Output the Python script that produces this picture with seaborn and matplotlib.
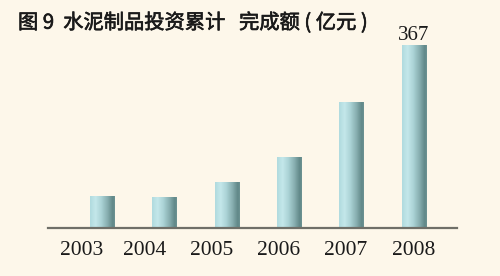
import numpy as np
import pandas as pd
import matplotlib
matplotlib.use("Agg")
import matplotlib.pyplot as plt
import matplotlib.patheffects as pe
from matplotlib.colors import LinearSegmentedColormap
import seaborn as sns

# ---- data ----
years = ["2003", "2004", "2005", "2006", "2007", "2008"]
values = [63, 62, 91, 142, 251, 367]
labeled_year = "2008"
labeled_text = "367"
title = "图 9  水泥制品投资累计   完成额 ( 亿元 )"

# ---- layout (style only) ----
tick_pos = [-0.33, 0.68, 1.75, 2.83, 3.90, 5.0]
bg = "#fdf7ea"

sns.set_theme(style="white")
plt.rcParams["font.family"] = ["Noto Sans CJK SC", "DejaVu Sans"]

fig = plt.figure(figsize=(5.0, 2.76), dpi=100, facecolor=bg)
ax = fig.add_axes([48 / 500, 48.5 / 276, 409 / 500, 227.5 / 276])
ax.set_facecolor(bg)

df = pd.DataFrame({"year": years, "value": values})
sns.barplot(data=df, x="year", y="value", ax=ax, width=0.39,
            color="#a5cfd2", edgecolor="none", linewidth=0)

# cylinder-like gradient fill for each bar
cmap = LinearSegmentedColormap.from_list(
    "cyl", [(0.0, "#b0dbdf"), (0.22, "#c4e7ea"), (0.45, "#acd4d7"),
            (0.7, "#88afb1"), (0.92, "#618888"), (1.0, "#6c9292")])
grad = np.linspace(0, 1, 64).reshape(1, -1)
for p in ax.patches:
    x0, y0 = p.get_x(), p.get_y()
    w, h = p.get_width(), p.get_height()
    im = ax.imshow(grad, cmap=cmap, aspect="auto",
                   extent=(x0, x0 + w, y0, y0 + h), zorder=p.get_zorder() + 0.1,
                   interpolation="bilinear")
    im.set_clip_path(p)
ax.set_xlim(-0.865, 5.689)
ax.set_ylim(0, 456.3)

# value label on the last bar
idx = years.index(labeled_year)
ax.annotate(labeled_text, xy=(idx, values[idx]), xytext=(0, 0),
            textcoords="offset points", ha="center", va="bottom",
            fontsize=15, family="Liberation Serif", color="#1a1a1a")

ax.set_xticks(tick_pos)
ax.set_xticklabels(years, family="Liberation Serif", fontsize=15.5, color="#1a1a1a")
ax.tick_params(axis="x", length=0, pad=10)
ax.set_yticks([])
ax.set_xlabel("")
ax.set_ylabel("")
for s in ["left", "right", "top"]:
    ax.spines[s].set_visible(False)
ax.spines["bottom"].set_color("#6f6f68")
ax.spines["bottom"].set_linewidth(1.6)

fig.text(18 / 500, 1 - 23 / 276, title, ha="left", va="center",
         fontsize=14.6, fontweight="normal", color="#1a1a1a",
         path_effects=[pe.withStroke(linewidth=0.45, foreground="#1a1a1a")])

fig.savefig("out.png", dpi=100, facecolor=bg)
